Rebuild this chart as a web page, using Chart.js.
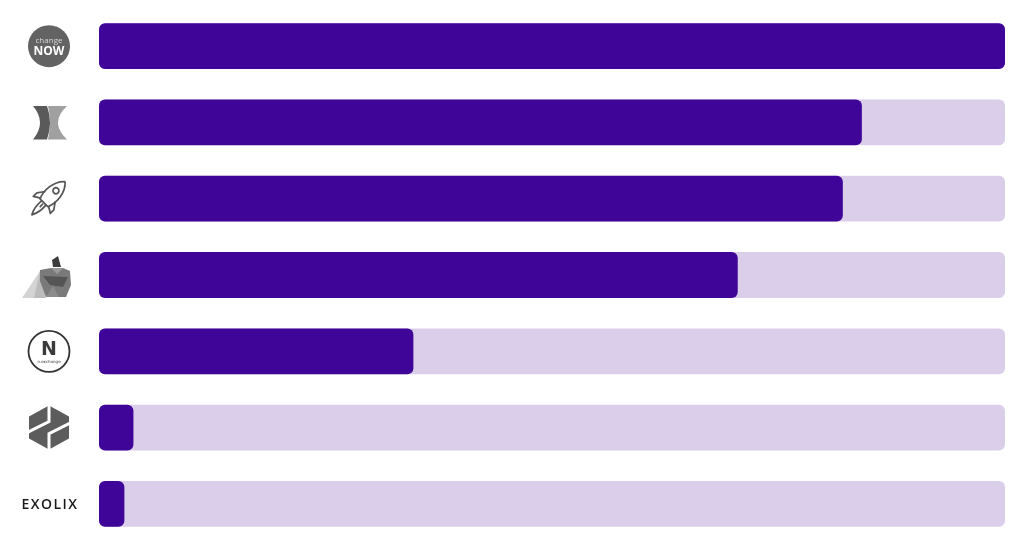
<!DOCTYPE html>
<html>
<head>
<meta charset="utf-8">
<script src="https://cdn.jsdelivr.net/npm/chart.js@4"></script>
<style>
  html, body { margin: 0; padding: 0; background: #fff; }
  #wrap { width: 1024px; height: 551px; }
</style>
</head>
<body>
<div id="wrap"><canvas id="myChart"></canvas></div>
<script>
// exchanges, top to bottom
var exchanges = ['ChangeNOW', 'StealthEX', 'Swapzone', 'SideShift', 'n.exchange', 'LetsExchange', 'Exolix'];
// score of each exchange (0-100)
var scores = [100, 84.2, 82.1, 70.5, 34.7, 3.8, 2.8];
// full-length track behind each bar
var track = [100, 100, 100, 100, 100, 100, 100];

var ctx = document.getElementById('myChart');

// logos drawn at the left of every row
function drawLogo(c, i, x, y) {
    c.save();
    if (i == 0) {
        c.fillStyle = '#636363';
        c.beginPath(); c.arc(x, y, 21, 0, Math.PI * 2); c.fill();
        c.textAlign = 'center';
        c.fillStyle = '#d8d8d8';
        c.font = '8px "Open Sans"';
        c.fillText('change', x, y - 3);
        c.fillStyle = '#fff';
        c.font = 'bold 12px "Open Sans"';
        c.fillText('NOW', x, y + 9);
    } else if (i == 1) {
        var t = y - 16.5, b = y + 17;
        c.fillStyle = '#a0a0a0';
        c.beginPath();
        c.moveTo(x - 1, t); c.lineTo(x + 18, t);
        c.quadraticCurveTo(x, y, x + 18, b);
        c.lineTo(x - 1, b);
        c.quadraticCurveTo(x + 3, y, x - 1, t);
        c.fill();
        c.fillStyle = '#5a5a5a';
        c.beginPath();
        c.moveTo(x - 16, t); c.lineTo(x - 2, t);
        c.quadraticCurveTo(x + 4, y, x - 2, b);
        c.lineTo(x - 16, b);
        c.quadraticCurveTo(x - 2, y, x - 16, t);
        c.fill();
    } else if (i == 2) {
        c.strokeStyle = '#555';
        c.lineWidth = 1.7;
        c.lineJoin = 'round';
        c.translate(x + 2, y - 3);
        c.rotate(Math.PI / 4);
        // body
        c.beginPath();
        c.moveTo(0, -20);
        c.bezierCurveTo(9, -12, 9, 2, 5.5, 10);
        c.lineTo(-5.5, 10);
        c.bezierCurveTo(-9, 2, -9, -12, 0, -20);
        c.stroke();
        // window
        c.beginPath(); c.arc(0, -7, 3, 0, Math.PI * 2); c.stroke();
        // fins
        c.beginPath();
        c.moveTo(-7, 1); c.lineTo(-12, 8); c.lineTo(-12, 13); c.lineTo(-5.5, 9);
        c.moveTo(7, 1); c.lineTo(12, 8); c.lineTo(12, 13); c.lineTo(5.5, 9);
        c.stroke();
        // flame
        c.beginPath();
        c.moveTo(-3, 10); c.quadraticCurveTo(-4, 20, 0, 27);
        c.quadraticCurveTo(4, 20, 3, 10);
        c.stroke();
        c.beginPath();
        c.moveTo(0, 11); c.lineTo(0, 16); c.stroke();
    } else if (i == 3) {
        // cape
        c.fillStyle = '#d4d4d4';
        c.beginPath();
        c.moveTo(x - 27, y + 23); c.lineTo(x - 9, y - 4); c.lineTo(x - 4, y + 23);
        c.fill();
        c.fillStyle = '#bcbcbc';
        c.beginPath();
        c.moveTo(x - 15, y + 23); c.lineTo(x - 9, y - 4); c.lineTo(x - 3, y + 23);
        c.fill();
        // body
        c.fillStyle = '#7a7a7a';
        c.beginPath();
        c.moveTo(x - 9, y - 5); c.lineTo(x + 2, y - 7); c.lineTo(x + 14, y - 7);
        c.lineTo(x + 21, y - 4); c.lineTo(x + 22, y + 10);
        c.lineTo(x + 17, y + 22); c.lineTo(x - 3, y + 22); c.lineTo(x - 9, y + 6);
        c.fill();
        c.fillStyle = '#555';
        c.beginPath();
        c.moveTo(x - 6, y + 1); c.lineTo(x + 19, y + 2); c.lineTo(x + 14, y + 12);
        c.lineTo(x + 1, y + 10);
        c.fill();
        c.fillStyle = '#999';
        c.beginPath();
        c.moveTo(x + 2, y - 7); c.lineTo(x + 14, y - 7); c.lineTo(x + 8, y - 1); c.fill();
        c.fillStyle = '#8c8c8c';
        c.beginPath();
        c.moveTo(x - 3, y + 22); c.lineTo(x + 4, y + 11); c.lineTo(x + 10, y + 22); c.fill();
        // head
        c.fillStyle = '#3c3c3c';
        c.beginPath();
        c.moveTo(x + 3, y - 15); c.lineTo(x + 9, y - 19); c.lineTo(x + 12, y - 8);
        c.lineTo(x + 4, y - 8);
        c.fill();
    } else if (i == 4) {
        c.strokeStyle = '#333';
        c.lineWidth = 1.8;
        c.beginPath(); c.arc(x, y, 20.5, 0, Math.PI * 2); c.stroke();
        c.fillStyle = '#3a3a3a';
        c.textAlign = 'center';
        c.font = 'bold 19px "DejaVu Sans"';
        c.fillText('N', x, y + 4);
        c.font = '4px "DejaVu Sans"';
        c.fillText('n.exchange', x, y + 12);
    } else if (i == 5) {
        c.fillStyle = '#5c5c5c';
        c.beginPath();
        c.moveTo(x, y - 22); c.lineTo(x + 20, y - 11); c.lineTo(x + 20, y + 11);
        c.lineTo(x, y + 22); c.lineTo(x - 20, y + 11); c.lineTo(x - 20, y - 11);
        c.closePath();
        c.fill();
        // white gaps between the pieces
        c.strokeStyle = '#fff';
        c.lineWidth = 3;
        c.lineJoin = 'miter';
        c.beginPath();
        c.moveTo(x, y - 24); c.lineTo(x, y - 6); c.lineTo(x - 22, y + 5);
        c.moveTo(x, y + 24); c.lineTo(x, y + 6); c.lineTo(x + 22, y - 5);
        c.stroke();
    } else if (i == 6) {
        c.fillStyle = '#1a1a1a';
        c.textAlign = 'center';
        c.font = '600 14px "Open Sans"';
        c.letterSpacing = '1.5px';
        c.fillText('EXOLIX', x + 1, y + 5);
    }
    c.restore();
}

var logoPlugin = {
    id: 'logos',
    afterDraw: function(chart) {
        var yScale = chart.scales.y;
        for (var i = 0; i < exchanges.length; i++) {
            drawLogo(chart.ctx, i, 49, yScale.getPixelForValue(i));
        }
    }
};

const myChart = new Chart(ctx, {
    type: 'bar',
    data: {
        labels: exchanges,
        datasets: [
            {
                label: 'Score',
                data: scores,
                backgroundColor: 'rgb(63, 4, 152)',
                borderRadius: 6,
                borderSkipped: false,
                order: 1
            },
            {
                label: 'Track',
                data: track,
                backgroundColor: 'rgb(219, 206, 234)',
                borderRadius: 6,
                borderSkipped: false,
                order: 2
            }
        ]
    },
    options: {
        indexAxis: 'y',
        responsive: true,
        maintainAspectRatio: false,
        animation: false,
        grouped: false,
        categoryPercentage: 1,
        barPercentage: 0.6,
        layout: {
            padding: { top: 8, right: 19, bottom: 9, left: 99 }
        },
        scales: {
            x: { display: false, min: 0, max: 100 },
            y: { display: false }
        },
        plugins: {
            legend: { display: false },
            tooltip: { enabled: false }
        }
    },
    plugins: [logoPlugin]
});
</script>
</body>
</html>
